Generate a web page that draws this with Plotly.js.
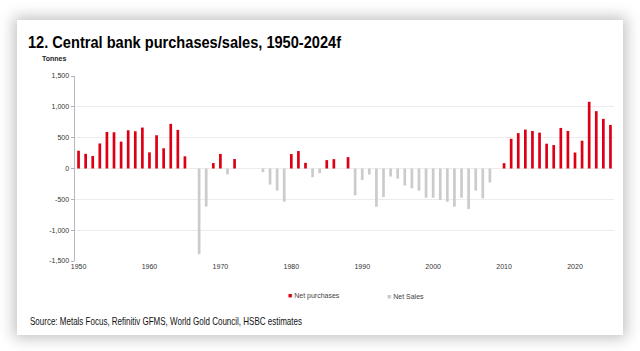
<!DOCTYPE html>
<html>
<head>
<meta charset="utf-8">
<script src="https://cdn.plot.ly/plotly-3.0.1.min.js"></script>
<style>
  html, body { margin: 0; padding: 0; background: #ffffff; width: 640px; height: 351px; overflow: hidden; }
  #card { position: absolute; left: 17px; top: 20px; width: 606px; height: 315px; background: #fff;
          box-shadow: 0 0 14px 3px rgba(0,0,0,0.25); }
  #chart { width: 606px; height: 315px; }
</style>
</head>
<body>
<div id="card"><div id="chart"></div></div>
<script>
// Central bank net purchases (+) / net sales (-), tonnes
const years = [];
for (let y = 1950; y <= 2025; y++) years.push(String(y));

const tonnes = [
  288, 238, 203, 406, 593, 588, 436, 620, 604, 664,   // 1950-1959
  262, 539, 328, 724, 626, 198, null, -1390, -618, 88, // 1960-1969
  236, -94, 153, null, null, null, -58, -260, -359, -538, // 1970-1979
  234, 283, 92, -141, -76, 136, 152, null, 185, -435,   // 1980-1989
  -185, -98, -620, -462, -130, -163, -277, -321, -359, -473, // 1990-1999
  -473, -511, -538, -620, -473, -658, -359, -484, -228, null, // 2000-2009
  87, 482, 574, 631, 609, 582, 402, 380, 658, 609,      // 2010-2019
  259, 451, 1082, 930, 805, 707                         // 2020-2025
];

const netPurchases = tonnes.map(v => (v !== null && v > 0) ? v : null);
const netSales = tonnes.map(v => (v !== null && v < 0) ? v : null);

const xTickVals = ['1950','1960','1970','1980','1990','2000','2010','2020'];
const yTickVals = [-1500, -1000, -500, 0, 500, 1000, 1500];
const yTickText = ['-1,500', '-1,000', '-500', '0', '500', '1,000', '1,500'];

const RED = '#dd0014';
const GREY = '#cbcbcb';
const FONT = 'Liberation Sans, Arial, sans-serif';

const traces = [
  { type: 'bar', name: 'Net purchases', x: years, y: netPurchases, marker: { color: RED }, hoverinfo: 'x+y' },
  { type: 'bar', name: 'Net Sales', x: years, y: netSales, marker: { color: GREY }, hoverinfo: 'x+y' }
];

const layout = {
  width: 606, height: 315,
  margin: { l: 58, r: 9, t: 56, b: 74 },
  paper_bgcolor: '#ffffff',
  plot_bgcolor: '#ffffff',
  barmode: 'relative',
  bargap: 0.62,
  showlegend: false,
  title: {
    text: '<b>12. Central bank purchases/sales, 1950-2024f</b>',
    font: { family: FONT, size: 17, color: '#000' },
    xref: 'container', x: 11 / 606, xanchor: 'left',
    yref: 'container', y: 1 - 22 / 315, yanchor: 'middle'
  },
  xaxis: {
    type: 'category',
    range: [-0.5, 75.5],
    tickmode: 'array', tickvals: xTickVals, ticktext: xTickVals,
    ticks: '', showline: false, showgrid: false, zeroline: false,
    tickfont: { family: FONT, size: 7, color: '#333' },
    fixedrange: true
  },
  xaxis2: {
    overlaying: 'x', anchor: 'free', position: 0.5,
    range: [-0.5, 75.5], type: 'linear',
    tickmode: 'linear', tick0: -0.5, dtick: 1,
    ticks: 'outside', ticklen: 2, tickwidth: 0.8, tickcolor: '#8c8c8c',
    showline: true, linecolor: '#9a9a9a', linewidth: 1,
    showticklabels: false, showgrid: false, zeroline: false
  },
  yaxis: {
    range: [-1500, 1500],
    tickmode: 'array', tickvals: yTickVals, ticktext: yTickText,
    ticks: 'outside', ticklen: 3, tickcolor: '#b0b0b0', tickwidth: 1,
    showline: true, linecolor: '#b8b8b8', linewidth: 1.5,
    showgrid: true, gridcolor: '#ececec', gridwidth: 1,
    zeroline: false,
    tickfont: { family: FONT, size: 7, color: '#333' },
    fixedrange: true
  },
  annotations: [
    { text: '<b>Tonnes</b>', xref: 'paper', yref: 'paper', x: (23 - 58) / 539, y: (241 - 38) / 185,
      xanchor: 'left', yanchor: 'middle', showarrow: false,
      font: { family: FONT, size: 7, color: '#222' } },
    { text: '<span style="color:' + RED + '">■</span> Net purchases', xref: 'paper', yref: 'paper',
      x: (269 - 58) / 539, y: (241 - 276) / 185, xanchor: 'left', yanchor: 'middle', showarrow: false,
      font: { family: FONT, size: 7, color: '#444' } },
    { text: '<span style="color:' + GREY + '">■</span> Net Sales', xref: 'paper', yref: 'paper',
      x: (368 - 58) / 539, y: (241 - 276) / 185, xanchor: 'left', yanchor: 'middle', showarrow: false,
      font: { family: FONT, size: 7, color: '#444' } },
    { text: 'Source: Metals Focus, Refinitiv GFMS, World Gold Council, HSBC estimates', xref: 'paper', yref: 'paper',
      x: (11 - 58) / 539, y: (241 - 301) / 185, xanchor: 'left', yanchor: 'middle', showarrow: false,
      font: { family: FONT, size: 10.5, color: '#111' } }
  ]
};

function condense(el, targetWidth) {
  const w = el.getBBox().width;
  const anchor = el.getAttribute('text-anchor') || 'start';
  const x = parseFloat(el.getAttribute('x') || '0');
  let left = x;
  if (anchor === 'middle') left = x - w / 2;
  else if (anchor === 'end') left = x - w;
  el.setAttribute('text-anchor', 'start');
  el.setAttribute('x', String(left));
  el.setAttribute('textLength', String(targetWidth));
  el.setAttribute('lengthAdjust', 'spacingAndGlyphs');
}

Plotly.newPlot('chart', traces, layout, { displayModeBar: false, staticPlot: true }).then(function (gd) {
  // condense title and source text to mimic the narrow typeface of the original
  const title = gd.querySelector('text.gtitle');
  if (title) condense(title, 313);
  gd.querySelectorAll('text.annotation-text').forEach(function (t) {
    if (t.textContent.indexOf('Source:') === 0) condense(t, 272);
  });
});
</script>
</body>
</html>
